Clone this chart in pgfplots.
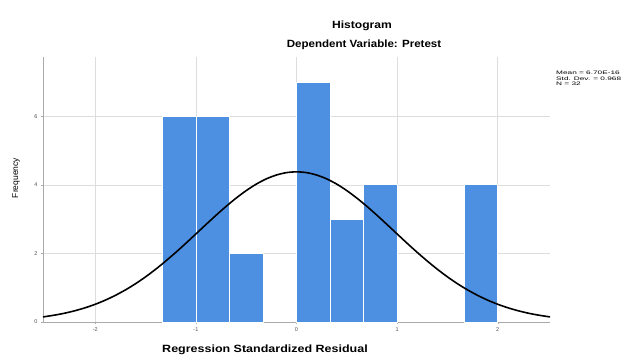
\documentclass[border=0pt]{standalone}
\usepackage{fontspec}
\setmainfont{Liberation Sans}
\usepackage{graphicx}
\usepackage{pgfplots}
\pgfplotsset{compat=1.18}
\definecolor{barblue}{RGB}{77,144,226}
\definecolor{gridgray}{RGB}{221,221,221}
\definecolor{axisgray}{RGB}{170,170,170}
\definecolor{ticktext}{RGB}{80,80,80}
\begin{document}
\begin{tikzpicture}[x=1pt,y=1pt]
\useasboundingbox (0,0) rectangle (623,356);
\clip (0,0) rectangle (623,356);
\begin{axis}[
  at={(43pt,34pt)}, anchor=south west,
  width=507pt, height=265pt, scale only axis,
  xmin=-2.52, xmax=2.52, ymin=0, ymax=7.73,
  axis x line*=bottom, axis y line*=left,
  axis line style={axisgray, line width=0.8pt},
  xtick={-2,-1,0,1,2}, ytick={0,2,4,6},
  grid=major, major grid style={gridgray, line width=0.6pt},
  tick style={axisgray}, tick align=outside, major tick length=2pt,
  tick label style={font=\fontsize{5.5}{6.5}\selectfont, text=ticktext},
  /pgf/number format/assume math mode=true,
  clip=false,
]
\addplot[ybar interval, fill=barblue, draw=white, line width=0.8pt]
  coordinates {(-1.3333,6) (-1,6) (-0.6667,2) (-0.3333,2)};
\addplot[ybar interval, fill=barblue, draw=white, line width=0.8pt]
  coordinates {(0,7) (0.3333,3) (0.6667,4) (1,4)};
\addplot[ybar interval, fill=barblue, draw=white, line width=0.8pt]
  coordinates {(1.6667,4) (2,4)};
\addplot[black, line width=1.6pt, smooth] coordinates {
(-2.52,0.148) (-2.4,0.203) (-2.3,0.260) (-2.2,0.331) (-2.1,0.416) (-2.0,0.518)
(-1.9,0.638) (-1.8,0.778) (-1.7,0.937) (-1.6,1.117) (-1.5,1.318) (-1.4,1.539)
(-1.3,1.778) (-1.2,2.031) (-1.1,2.296) (-1.0,2.569) (-0.9,2.843) (-0.8,3.113)
(-0.7,3.372) (-0.6,3.614) (-0.5,3.833) (-0.4,4.022) (-0.3,4.175) (-0.2,4.287)
(-0.1,4.357) (0,4.380) (0.1,4.357) (0.2,4.287) (0.3,4.175) (0.4,4.022)
(0.5,3.833) (0.6,3.614) (0.7,3.372) (0.8,3.113) (0.9,2.843) (1.0,2.569)
(1.1,2.296) (1.2,2.031) (1.3,1.778) (1.4,1.539) (1.5,1.318) (1.6,1.117)
(1.7,0.937) (1.8,0.778) (1.9,0.638) (2.0,0.518) (2.1,0.416) (2.2,0.331)
(2.3,0.260) (2.4,0.203) (2.52,0.148)};
\end{axis}
\node[font=\fontsize{10.5}{12}\selectfont\bfseries, xscale=1.15] at (362,330) {Histogram};
\node[font=\fontsize{10.5}{12}\selectfont\bfseries, xscale=1.1] at (364,311) {Dependent Variable: Pretest};
\node[font=\fontsize{10.5}{12}\selectfont\bfseries, xscale=1.19] at (265,6) {Regression Standardized Residual};
\node[font=\fontsize{8.5}{10}\selectfont, rotate=90] at (16,178) {Frequency};
\begin{scope}[every node/.style={font=\fontsize{5}{5.7}\selectfont, anchor=west, inner sep=0pt}]
\node at (556,283) {\scalebox{1.65}[1]{Mean = 6.70E-16}};
\node at (556,277.5) {\scalebox{1.65}[1]{Std. Dev. = 0.968}};
\node at (556,272) {\scalebox{1.65}[1]{N = 32}};
\end{scope}
\end{tikzpicture}
\end{document}
